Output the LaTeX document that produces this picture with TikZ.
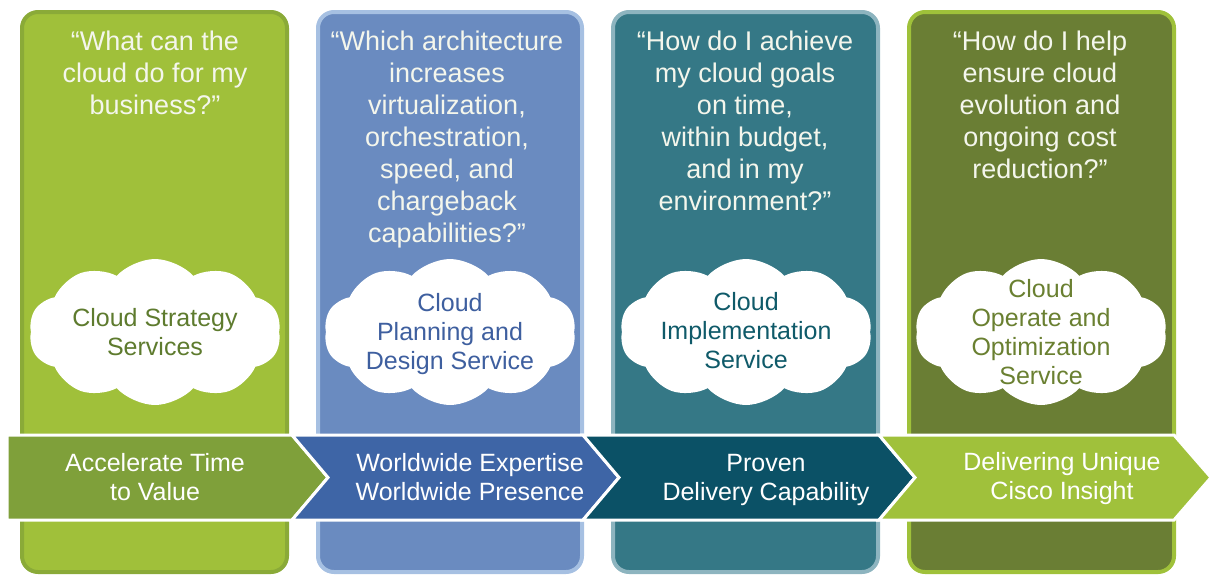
\documentclass[tikz,border=0pt]{standalone}
\usepackage{fontspec}
\setmainfont{Liberation Sans}
\usetikzlibrary{shapes.symbols}
\definecolor{pOneFill}{HTML}{A0C03A}
\definecolor{pOneLine}{HTML}{8AAA38}
\definecolor{pTwoFill}{HTML}{6A8BC0}
\definecolor{pTwoLine}{HTML}{A6C0E2}
\definecolor{pThreeFill}{HTML}{357886}
\definecolor{pThreeLine}{HTML}{8DB4BF}
\definecolor{pFourFill}{HTML}{6A7E34}
\definecolor{pFourLine}{HTML}{9FC13A}
\definecolor{aOne}{HTML}{7FA03A}
\definecolor{aTwo}{HTML}{3E65A6}
\definecolor{aThree}{HTML}{0B5166}
\definecolor{aFour}{HTML}{A0C13B}
\definecolor{tOne}{HTML}{5E7B2E}
\definecolor{tTwo}{HTML}{3E5F9F}
\definecolor{tThree}{HTML}{0F5A69}
\definecolor{tFour}{HTML}{6A8031}
\definecolor{headtext}{HTML}{F4F6EC}
\tikzset{
  panel/.style={line width=4pt, rounded corners=16pt},
  heading/.style={text=headtext, align=center, font=\fontsize{27}{32}\selectfont, inner sep=0pt},
  puff/.style={cloud, cloud puffs=10, cloud puff arc=95, aspect=1.75, fill=white, draw=none,
    minimum width=252pt, minimum height=146pt, inner sep=0pt},
  cloudtext/.style={align=center, font=\fontsize{25}{29}\selectfont, inner sep=0pt},
  chevron/.style={draw=white, line width=3pt, line join=miter},
  bandtext/.style={text=white, align=center, font=\fontsize{25}{29}\selectfont, inner sep=0pt}
}
\begin{document}
\begin{tikzpicture}[x=1pt,y=-1pt]
\useasboundingbox (0,0) rectangle (1214,574);
% panels
\draw[panel, draw=pOneLine, fill=pOneFill] (22,12) rectangle (287,572);
\draw[panel, draw=pTwoLine, fill=pTwoFill] (318,12) rectangle (582,572);
\draw[panel, draw=pThreeLine, fill=pThreeFill] (613,12) rectangle (878,572);
\draw[panel, draw=pFourLine, fill=pFourFill] (909,12) rectangle (1174,572);
% headings
\node[heading] (h1) at (155,73) {“What can the\\cloud do for my\\business?”};
\node[heading] (h2) at (447,140) {“Which architecture\\increases\\virtualization,\\orchestration,\\speed, and\\chargeback\\capabilities?”};
\node[heading] (h3) at (745,121) {“How do I achieve\\my cloud goals\\on time,\\within budget,\\and in my\\environment?”};
\node[heading] (h4) at (1040,105) {“How do I help\\ensure cloud\\evolution and\\ongoing cost\\reduction?”};
% clouds
\node[puff] (c1) at (155,332) {};
\node[puff] (c2) at (450,332) {};
\node[puff] (c3) at (746,332) {};
\node[puff] (c4) at (1041,332) {};
\node[cloudtext, text=tOne] (ct1) at (155,332) {Cloud Strategy\\Services};
\node[cloudtext, text=tTwo] (ct2) at (450,334) {Cloud\\Planning and\\Design Service};
\node[cloudtext, text=tThree] (ct3) at (746,331) {Cloud\\Implementation\\Service};
\node[cloudtext, text=tFour] (ct4) at (1041,332) {Cloud\\Operate and\\Optimization\\Service};
% chevron band
\draw[chevron, fill=aOne] (7,435) -- (292,435) -- (328,477.5) -- (292,520) -- (7,520) -- cycle;
\draw[chevron, fill=aTwo] (292,435) -- (583,435) -- (619,477.5) -- (583,520) -- (292,520) -- (328,477.5) -- cycle;
\draw[chevron, fill=aThree] (583,435) -- (879,435) -- (915,477.5) -- (879,520) -- (583,520) -- (619,477.5) -- cycle;
\draw[chevron, fill=aFour] (879,435) -- (1174,435) -- (1211,477.5) -- (1174,520) -- (879,520) -- (915,477.5) -- cycle;
\node[bandtext] (b1) at (155,477) {Accelerate Time\\to Value};
\node[bandtext] (b2) at (470,477) {Worldwide Expertise\\Worldwide Presence};
\node[bandtext] (b3) at (766,480) {Proven\\Delivery Capability};
\node[bandtext] (b4) at (1062,479) {Delivering Unique\\Cisco Insight};
\end{tikzpicture}
\end{document}
